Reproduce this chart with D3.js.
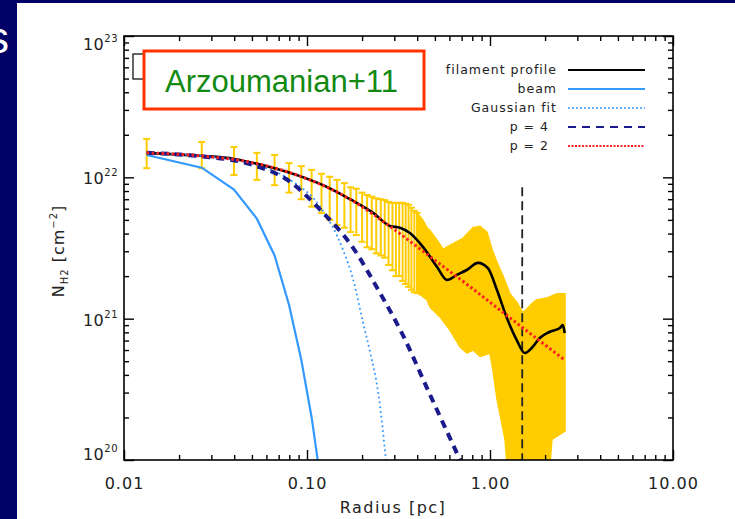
<!DOCTYPE html>
<html>
<head>
<meta charset="utf-8">
<script src="https://cdn.jsdelivr.net/npm/d3@7"></script>
<style>
body { margin: 0; background: #000066; }
svg { display: block; }
</style>
</head>
<body>
<svg id="svg"></svg>
<script>
// radius [pc] and column density [cm^-2]
var profR = [0.0133, 0.026, 0.04, 0.0488, 0.065, 0.0915, 0.13, 0.172, 0.23, 0.284, 0.322, 0.365, 0.431, 0.514, 0.582, 0.659, 0.746, 0.86, 0.974, 1.09, 1.23, 1.40, 1.55, 1.71, 1.87, 2.11, 2.41, 2.50, 2.56];
var profN = [1.49e22, 1.42e22, 1.35e22, 1.28e22, 1.17e22, 1.02e22, 8.5e21, 7.0e21, 5.6e21, 4.53e21, 4.40e21, 4.04e21, 3.21e21, 2.32e21, 1.88e21, 2.04e21, 2.21e21, 2.48e21, 2.28e21, 1.60e21, 1.03e21, 7.06e20, 5.71e20, 6.3e20, 7.3e20, 8.05e20, 8.6e20, 9.0e20, 7.9e20];

var beamR = [0.0133, 0.0266, 0.0399, 0.0532, 0.0665, 0.0798, 0.0931, 0.106, 0.120];
var beamN = [1.44e22, 1.17e22, 8.2e21, 5.1e21, 2.8e21, 1.25e21, 5.1e20, 2.0e20, 6.5e19];

var gaussR = [0.0133, 0.026, 0.0488, 0.0808, 0.118, 0.1575, 0.179, 0.202, 0.221, 0.245, 0.270];
var gaussN = [1.49e22, 1.42e22, 1.26e22, 9.6e21, 6.2e21, 3.06e21, 1.88e21, 9.5e20, 5.8e20, 3.0e20, 1.0e20];

var p4R = [0.0133, 0.026, 0.0488, 0.0808, 0.118, 0.179, 0.245, 0.330, 0.470, 0.686];
var p4N = [1.49e22, 1.41e22, 1.24e22, 9.3e21, 5.9e21, 3.16e21, 1.60e21, 7.9e20, 2.9e20, 1.0e20];

var p2R = [0.0133, 0.026, 0.0488, 0.0915, 0.172, 0.284, 0.470, 0.779, 1.289, 2.56];
var p2N = [1.49e22, 1.42e22, 1.28e22, 1.02e22, 7.0e21, 4.5e21, 2.75e21, 1.68e21, 1.01e21, 5.1e20];

// individual error bars
var errR  = [0.0133, 0.0266, 0.0399, 0.0532, 0.0665, 0.0798, 0.0931, 0.106, 0.120, 0.133, 0.146, 0.160, 0.173, 0.186, 0.200, 0.213, 0.226, 0.239, 0.253, 0.266, 0.279, 0.293, 0.306, 0.319, 0.333, 0.346, 0.359, 0.372, 0.386, 0.399];
var errLo = [1.16e22, 1.16e22, 1.04e22, 9.6e21, 8.8e21, 7.8e21, 7.0e21, 6.2e21, 5.6e21, 5.0e21, 4.6e21, 4.4e21, 4.1e21, 3.9e21, 3.5e21, 3.2e21, 3.1e21, 2.9e21, 2.8e21, 2.7e21, 2.4e21, 2.2e21, 2.0e21, 2.0e21, 1.85e21, 1.76e21, 1.68e21, 1.60e21, 1.54e21, 1.52e21];
var errHi = [1.87e22, 1.78e22, 1.64e22, 1.49e22, 1.44e22, 1.26e22, 1.20e22, 1.13e22, 1.06e22, 1.01e22, 9.6e21, 9.1e21, 8.5e21, 8.3e21, 7.8e21, 7.5e21, 7.3e21, 7.1e21, 7.0e21, 6.9e21, 6.7e21, 6.6e21, 6.6e21, 6.6e21, 6.6e21, 6.5e21, 6.4e21, 6.1e21, 5.8e21, 5.6e21];

// where the error bars are so dense they merge into a band
var bandTopR = [0.399, 0.425, 0.453, 0.470, 0.513, 0.554, 0.628, 0.712, 0.807, 0.882, 0.963, 1.025, 1.092, 1.178, 1.286, 1.405, 1.515, 1.718, 1.806, 2.049, 2.323, 2.569];
var bandTopN = [5.6e21, 5.1e21, 4.4e21, 4.2e21, 3.6e21, 3.1e21, 3.4e21, 3.7e21, 4.4e21, 4.5e21, 4.1e21, 3.1e21, 2.5e21, 2.0e21, 1.5e21, 1.3e21, 1.1e21, 1.3e21, 1.36e21, 1.4e21, 1.5e21, 1.5e21];
var bandBotR = [0.399, 0.425, 0.453, 0.470, 0.533, 0.604, 0.686, 0.748, 0.807, 0.882, 1.0, 1.038, 1.092, 1.208, 1.286, 2.049, 2.18, 2.569];
var bandBotN = [1.52e21, 1.45e21, 1.36e21, 1.21e21, 1.03e21, 8.3e20, 6.3e20, 5.7e20, 6.0e20, 5.4e20, 5.7e20, 4.3e20, 2.7e20, 1.4e20, 5e19, 5e19, 1.4e20, 1.6e20];

var vlineR = 1.5, vlineTop = 8.5e21;

var xMajor = [0.01, 0.1, 1, 10];
var yMajor = [1e20, 1e21, 1e22, 1e23];
var legendLabels = ["filament profile", "beam", "Gaussian fit", "p = 4", "p = 2"];

//////////////////////////////////////////////////////////////////////////////
var width = 735, height = 519;
var font = "DejaVu Sans, sans-serif";

var svg = d3.select("#svg")
        .attr("width", width)
        .attr("height", height);

svg.append("rect").attr("width", width).attr("height", height).attr("fill", "#000066");
svg.append("rect").attr("x", 17).attr("y", 3).attr("width", width - 17).attr("height", height - 3).attr("fill", "#fff");

// bits of the slide behind the figure
svg.append("text").attr("x", 9).attr("y", 53).attr("text-anchor", "end")
    .attr("font-family", "Liberation Sans, Arial, sans-serif").attr("font-size", 44)
    .attr("fill", "#fff").text("s");

var x = d3.scaleLog().domain([0.01, 10]).range([124, 673]);
var y = d3.scaleLog().domain([1e20, 1e23]).range([460, 36]);

svg.append("clipPath").attr("id", "plotclip")
    .append("rect").attr("x", 124).attr("y", 36).attr("width", 549).attr("height", 424);

var plot = svg.append("g").attr("clip-path", "url(#plotclip)");

function zipPoints(rs, ns)
{
    var pts = [];
    for (var i=0; i<rs.length; ++i) {
        pts.push([x(rs[i]), y(ns[i])]);
    }
    return pts;
}

// error band
var bandPts = zipPoints(bandTopR, bandTopN).concat(zipPoints(bandBotR, bandBotN).reverse());
plot.append("path")
    .attr("d", d3.line()(bandPts) + "Z")
    .attr("fill", "#ffcc00")
    .attr("stroke", "#ffcc00")
    .attr("stroke-width", 1.5);

// error bars
var bars = plot.selectAll("g.err").data(errR).enter().append("g").attr("class", "err");
bars.append("line")
    .attr("x1", function(d) { return x(d); })
    .attr("x2", function(d) { return x(d); })
    .attr("y1", function(d, i) { return y(errLo[i]); })
    .attr("y2", function(d, i) { return y(errHi[i]); });
bars.append("line")
    .attr("x1", function(d) { return x(d) - 3.5; })
    .attr("x2", function(d) { return x(d) + 3.5; })
    .attr("y1", function(d, i) { return y(errLo[i]); })
    .attr("y2", function(d, i) { return y(errLo[i]); });
bars.append("line")
    .attr("x1", function(d) { return x(d) - 3.5; })
    .attr("x2", function(d) { return x(d) + 3.5; })
    .attr("y1", function(d, i) { return y(errHi[i]); })
    .attr("y2", function(d, i) { return y(errHi[i]); });
bars.selectAll("line").attr("stroke", "#ffcc00").attr("stroke-width", 2);

// vertical dashed marker
plot.append("line")
    .attr("x1", x(vlineR)).attr("x2", x(vlineR))
    .attr("y1", y(vlineTop)).attr("y2", y(1e20))
    .attr("stroke", "#222").attr("stroke-width", 1.8)
    .attr("stroke-dasharray", "9,5");

var smooth = d3.line().curve(d3.curveMonotoneX);
var straight = d3.line();

plot.append("path").attr("d", smooth(zipPoints(profR, profN)))
    .attr("fill", "none").attr("stroke", "#000").attr("stroke-width", 2.6);
plot.append("path").attr("d", straight(zipPoints(beamR, beamN)))
    .attr("fill", "none").attr("stroke", "#3399ff").attr("stroke-width", 2.2);
plot.append("path").attr("d", smooth(zipPoints(gaussR, gaussN)))
    .attr("fill", "none").attr("stroke", "#3399ff").attr("stroke-width", 1.8)
    .attr("stroke-dasharray", "1.8,3");
plot.append("path").attr("d", smooth(zipPoints(p4R, p4N)))
    .attr("fill", "none").attr("stroke", "#1a1a8c").attr("stroke-width", 4)
    .attr("stroke-dasharray", "8,6");
plot.append("path").attr("d", smooth(zipPoints(p2R, p2N)))
    .attr("fill", "none").attr("stroke", "#ff2020").attr("stroke-width", 3)
    .attr("stroke-dasharray", "2.5,2.5");

//////////////////////////////////////////////////////////////////////////////
// axes: IDL style, ticks inside on all four sides
var xMinor = x.ticks().filter(function(v) { return xMajor.indexOf(v) < 0; });
var yMinor = y.ticks().filter(function(v) { return yMajor.indexOf(v) < 0; });

function styleAxis(g)
{
    g.select(".domain").remove();
    g.selectAll("line").attr("stroke-width", 1.4);
    g.attr("font-family", font).attr("font-size", 16);
}

var axes = [
    {fn: d3.axisBottom, scale: x, tr: "translate(0,460)", major: xMajor, minor: xMinor, label: true},
    {fn: d3.axisTop, scale: x, tr: "translate(0,36)", major: xMajor, minor: xMinor, label: false},
    {fn: d3.axisLeft, scale: y, tr: "translate(124,0)", major: yMajor, minor: yMinor, label: false},
    {fn: d3.axisRight, scale: y, tr: "translate(673,0)", major: yMajor, minor: yMinor, label: false}
];
axes.forEach(function(a) {
    svg.append("g").attr("transform", a.tr)
        .call(a.fn(a.scale).tickValues(a.minor).tickSize(-5).tickFormat(""))
        .call(styleAxis);
    var g = svg.append("g").attr("transform", a.tr)
        .call(a.fn(a.scale).tickValues(a.major).tickSize(-10).tickPadding(18)
              .tickFormat(a.label ? d3.format(".2f") : ""))
        .call(styleAxis);
    g.selectAll("text").attr("letter-spacing", 1).attr("fill", "#222");
});

svg.append("rect")
    .attr("x", 124).attr("y", 36).attr("width", 549).attr("height", 424)
    .attr("fill", "none").attr("stroke", "#000").attr("stroke-width", 1.6);

// y tick labels as 10^n
var ylab = svg.append("g").attr("font-family", font).attr("fill", "#222");
yMajor.forEach(function(v) {
    var t = ylab.append("text")
        .attr("x", 118)
        .attr("y", Math.max(50, Math.min(460, y(v) + 7)))
        .attr("text-anchor", "end")
        .attr("font-size", 16)
        .attr("letter-spacing", 0.5);
    t.append("tspan").text("10");
    t.append("tspan").attr("dy", -8).attr("font-size", 10).text(Math.round(Math.log10(v)));
});

svg.append("text")
    .attr("x", 393).attr("y", 513)
    .attr("text-anchor", "middle")
    .attr("font-family", font).attr("font-size", 16).attr("letter-spacing", 1.5)
    .attr("fill", "#222")
    .text("Radius [pc]");

var ytitle = svg.append("text")
    .attr("transform", "translate(64,251) rotate(-90)")
    .attr("text-anchor", "middle")
    .attr("font-family", font).attr("font-size", 16).attr("letter-spacing", 1)
    .attr("fill", "#222");
ytitle.append("tspan").text("N");
ytitle.append("tspan").attr("dy", 4).attr("font-size", 10).text("H2");
ytitle.append("tspan").attr("dy", -4).text(" [cm");
ytitle.append("tspan").attr("dy", -7).attr("font-size", 10).text("\u22122");
ytitle.append("tspan").attr("dy", 7).text("]");

//////////////////////////////////////////////////////////////////////////////
// legend
var legendStroke = ["#000", "#3399ff", "#3399ff", "#1a1a8c", "#ff2020"];
var legendWidth = [2, 2.2, 1.6, 2, 2];
var legendDash = [null, null, "2,2", "8,6", "2,1.5"];
var legendRight = [557, 557, 557, 549, 549];

var leg = svg.append("g");
legendLabels.forEach(function(lab, i) {
    var ly = 70 + 19 * i;
    leg.append("text")
        .attr("x", legendRight[i]).attr("y", ly + 4)
        .attr("text-anchor", "end")
        .attr("font-family", font).attr("font-size", 12.5).attr("letter-spacing", 1)
        .attr("fill", "#222")
        .text(lab);
    leg.append("line")
        .attr("x1", 568).attr("x2", 645).attr("y1", ly).attr("y2", ly)
        .attr("stroke", legendStroke[i]).attr("stroke-width", legendWidth[i])
        .attr("stroke-dasharray", legendDash[i]);
});

// partly hidden legend box and the citation label over it
svg.append("rect").attr("x", 133).attr("y", 54).attr("width", 40).attr("height", 25)
    .attr("fill", "#fff").attr("stroke", "#000").attr("stroke-width", 1.2);
svg.append("rect").attr("x", 144).attr("y", 51).attr("width", 280).attr("height", 58)
    .attr("fill", "#fff").attr("stroke", "#ff3300").attr("stroke-width", 3);
svg.append("text").attr("x", 165).attr("y", 92)
    .attr("font-family", "Liberation Sans, Arial, sans-serif").attr("font-size", 31)
    .attr("fill", "#128a12")
    .text("Arzoumanian+11");
</script>
</body>
</html>
